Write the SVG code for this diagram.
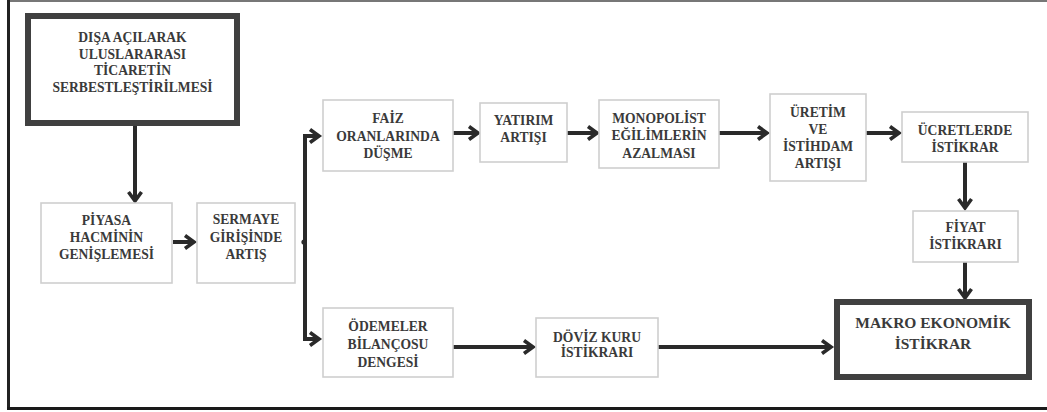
<svg xmlns="http://www.w3.org/2000/svg" width="1047" height="412" viewBox="0 0 1047 412">
<style>
.t{font-family:"Liberation Serif","Times New Roman",serif;font-weight:bold;font-size:13.6px;fill:#3a3a3a;text-anchor:middle}
.big{font-size:15.5px}
.box{fill:#fff;stroke:#cfcfcf;stroke-width:1.6}
.thick{fill:#fff;stroke:#404040;stroke-width:6}
.c{fill:none;stroke:#2a2a2a;stroke-width:4;marker-end:url(#ah)}
</style>
<defs>
<marker id="ah" markerUnits="userSpaceOnUse" markerWidth="18" markerHeight="18" refX="12" refY="9" orient="auto">
<path d="M3,2.5 L12,9 L3,15.5" fill="none" stroke="#2a2a2a" stroke-width="3.6"/>
</marker>
</defs>
<rect width="1047" height="412" fill="#fff"/>
<g id="frame">
<line x1="8" y1="1" x2="1047" y2="1" stroke="#777" stroke-width="2"/>
<line x1="8.5" y1="0" x2="8.5" y2="410" stroke="#222" stroke-width="3"/>
<line x1="7" y1="408.5" x2="1047" y2="408.5" stroke="#1a1a1a" stroke-width="3"/>
</g>
<g id="connectors">
<path class="c" d="M135,126 V201"/>
<path class="c" d="M173,242 H194"/>
<path class="c" d="M305,242 V136 H319"/>
<path class="c" d="M305,242 V339 H319"/>
<circle cx="304" cy="242" r="2.6" fill="#2a2a2a"/>
<path class="c" d="M453,133 H478"/>
<path class="c" d="M567,133 H597"/>
<path class="c" d="M719,133 H767"/>
<path class="c" d="M866,133 H899"/>
<path class="c" d="M965,162 V208"/>
<path class="c" d="M965,262 V298"/>
<path class="c" d="M453,347 H533"/>
<path class="c" d="M658,347 H831"/>
</g>
<g id="n-disa">
<rect class="thick" x="28" y="16" width="209" height="107"/>
<text class="t" x="132.5" y="42">DIŞA AÇILARAK</text>
<text class="t" x="132.5" y="58.5">ULUSLARARASI</text>
<text class="t" x="132.5" y="75">TİCARETİN</text>
<text class="t" x="132.5" y="92">SERBESTLEŞTİRİLMESİ</text>
</g>
<g id="n-piyasa">
<rect class="box" x="41" y="203" width="131" height="80"/>
<text class="t" x="106.5" y="225">PİYASA</text>
<text class="t" x="106.5" y="242">HACMİNİN</text>
<text class="t" x="106.5" y="259">GENİŞLEMESİ</text>
</g>
<g id="n-sermaye">
<rect class="box" x="197" y="203" width="98" height="80"/>
<text class="t" x="246" y="224">SERMAYE</text>
<text class="t" x="246" y="242">GİRİŞİNDE</text>
<text class="t" x="246" y="259">ARTIŞ</text>
</g>
<g id="n-faiz">
<rect class="box" x="323" y="100" width="130" height="71"/>
<text class="t" x="388" y="123">FAİZ</text>
<text class="t" x="388" y="141">ORANLARINDA</text>
<text class="t" x="388" y="158">DÜŞME</text>
</g>
<g id="n-yatirim">
<rect class="box" x="480" y="103" width="87" height="59"/>
<text class="t" x="523.5" y="125">YATIRIM</text>
<text class="t" x="523.5" y="142">ARTIŞI</text>
</g>
<g id="n-monopolist">
<rect class="box" x="599" y="100" width="120" height="68"/>
<text class="t" x="659" y="123">MONOPOLİST</text>
<text class="t" x="659" y="140">EĞİLİMLERİN</text>
<text class="t" x="659" y="158">AZALMASI</text>
</g>
<g id="n-uretim">
<rect class="box" x="770" y="94" width="96" height="87"/>
<text class="t" x="818" y="117">ÜRETİM</text>
<text class="t" x="818" y="134">VE</text>
<text class="t" x="818" y="151">İSTİHDAM</text>
<text class="t" x="818" y="168">ARTIŞI</text>
</g>
<g id="n-ucret">
<rect class="box" x="902" y="112" width="126" height="50"/>
<text class="t" x="965" y="135">ÜCRETLERDE</text>
<text class="t" x="965" y="152">İSTİKRAR</text>
</g>
<g id="n-fiyat">
<rect class="box" x="913" y="211" width="105" height="51"/>
<text class="t" x="965.5" y="232">FİYAT</text>
<text class="t" x="965.5" y="249">İSTİKRARI</text>
</g>
<g id="n-makro">
<rect class="thick" x="837" y="302" width="192" height="75"/>
<text class="t big" x="933" y="328">MAKRO EKONOMİK</text>
<text class="t big" x="933" y="349">İSTİKRAR</text>
</g>
<g id="n-odemeler">
<rect class="box" x="323" y="308" width="130" height="69"/>
<text class="t" x="388" y="331">ÖDEMELER</text>
<text class="t" x="388" y="349">BİLANÇOSU</text>
<text class="t" x="388" y="367">DENGESİ</text>
</g>
<g id="n-doviz">
<rect class="box" x="536" y="318" width="122" height="59"/>
<text class="t" x="597" y="342">DÖVİZ KURU</text>
<text class="t" x="597" y="357">İSTİKRARI</text>
</g>
</svg>
